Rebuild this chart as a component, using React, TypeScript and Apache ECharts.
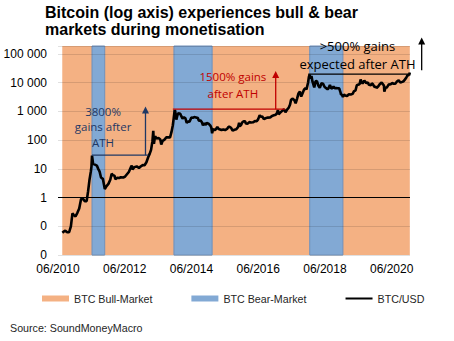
import React, { useEffect, useRef } from 'react';
import * as echarts from 'echarts';

// ---- data ----
const btcDates = [
  '2010-07-18','2010-08-01','2010-08-20','2010-09-10','2010-10-01','2010-10-20','2010-11-07','2010-11-20','2010-12-10','2010-12-31',
  '2011-01-20','2011-02-10','2011-03-01','2011-03-20','2011-04-10','2011-04-25','2011-05-10','2011-05-25','2011-06-02','2011-06-08',
  '2011-06-20','2011-07-10','2011-07-30','2011-08-15','2011-08-30','2011-09-15','2011-10-05','2011-10-26','2011-11-15','2011-12-05',
  '2011-12-25','2012-01-10','2012-01-25','2012-02-10','2012-02-20','2012-03-10','2012-04-01','2012-04-20','2012-05-15','2012-06-05',
  '2012-06-25','2012-07-15','2012-08-05','2012-08-17','2012-08-25','2012-09-15','2012-10-10','2012-11-05','2012-11-25','2012-12-15',
  '2013-01-05','2013-01-25','2013-02-15','2013-03-01','2013-03-15','2013-03-30','2013-04-09','2013-04-16','2013-04-28','2013-05-15',
  '2013-06-05','2013-06-25','2013-07-05','2013-07-20','2013-08-10','2013-08-30','2013-09-20','2013-10-10','2013-10-25','2013-11-10',
  '2013-11-20','2013-11-30','2013-12-05','2013-12-18','2013-12-30','2014-01-10','2014-01-30','2014-02-10','2014-02-25','2014-03-10',
  '2014-03-25','2014-04-10','2014-04-25','2014-05-10','2014-05-30','2014-06-15','2014-07-01','2014-07-20','2014-08-10','2014-08-20',
  '2014-09-10','2014-09-25','2014-10-05','2014-10-20','2014-11-05','2014-11-15','2014-12-05','2014-12-25','2015-01-05','2015-01-14',
  '2015-01-25','2015-02-10','2015-02-25','2015-03-10','2015-03-25','2015-04-10','2015-04-25','2015-05-15','2015-06-05','2015-06-25',
  '2015-07-10','2015-07-25','2015-08-10','2015-08-25','2015-09-15','2015-10-05','2015-10-25','2015-11-05','2015-11-12','2015-11-25',
  '2015-12-10','2015-12-25','2016-01-10','2016-01-18','2016-02-05','2016-02-25','2016-03-15','2016-04-05','2016-04-25','2016-05-15',
  '2016-05-30','2016-06-17','2016-06-28','2016-07-15','2016-08-02','2016-08-20','2016-09-15','2016-10-10','2016-10-30','2016-11-20',
  '2016-12-10','2016-12-25','2017-01-04','2017-01-12','2017-01-30','2017-02-20','2017-03-10','2017-03-25','2017-04-15','2017-04-30',
  '2017-05-15','2017-05-25','2017-06-10','2017-06-30','2017-07-15','2017-07-30','2017-08-15','2017-09-01','2017-09-15','2017-09-30',
  '2017-10-15','2017-10-31','2017-11-12','2017-11-29','2017-12-08','2017-12-17','2017-12-22','2018-01-06','2018-01-17','2018-02-06',
  '2018-02-20','2018-03-05','2018-03-18','2018-04-06','2018-04-24','2018-05-10','2018-05-28','2018-06-12','2018-06-29','2018-07-10',
  '2018-07-25','2018-08-10','2018-08-25','2018-09-04','2018-09-15','2018-10-01','2018-10-20','2018-11-05','2018-11-20','2018-11-25',
  '2018-12-05','2018-12-15','2018-12-28','2019-01-10','2019-01-30','2019-02-20','2019-03-10','2019-03-30','2019-04-15','2019-05-01',
  '2019-05-15','2019-05-30','2019-06-15','2019-06-26','2019-07-05','2019-07-17','2019-08-06','2019-08-28','2019-09-15','2019-09-25',
  '2019-10-20','2019-10-26','2019-11-10','2019-11-25','2019-12-10','2019-12-18','2020-01-05','2020-01-20','2020-02-13','2020-02-28',
  '2020-03-08','2020-03-12','2020-03-25','2020-04-10','2020-04-30','2020-05-10','2020-05-25','2020-06-05','2020-06-25','2020-07-10',
  '2020-07-28','2020-08-17','2020-09-05','2020-09-25','2020-10-10','2020-10-25','2020-11-10','2020-11-24','2020-11-26','2020-12-01',
  '2020-12-10','2020-12-17'
];
const btcPrices = [
  0.06,0.065,0.07,0.062,0.062,0.1,0.28,0.25,0.22,0.3,
  0.42,0.9,0.9,0.75,0.75,1.6,4,8,12,29,
  15,14,13,10,8,5,4.5,2.0,2.5,3.0,
  4.2,6.8,6.0,5.8,4.4,4.9,4.8,5.1,5.0,5.4,
  6.5,7.8,11,13,9.5,11.5,12.2,10.8,12.3,13.5,
  13.4,17,26,34,46,92,210,75,135,115,
  120,105,70,95,105,125,125,125,190,330,
  600,1100,1050,520,750,870,830,700,560,630,
  580,400,450,440,620,600,640,620,590,480,
  480,410,330,390,340,400,375,320,275,175,
  250,220,240,290,245,235,225,237,225,245,
  290,290,265,215,230,240,290,400,310,330,
  420,455,450,380,375,425,415,420,460,455,
  530,740,650,665,540,580,610,615,700,735,
  770,890,1130,790,920,1050,1190,940,1180,1350,
  1740,2500,2800,2500,1930,2750,4200,4900,3300,4330,
  5700,6450,5900,10000,16000,19300,13800,17100,10900,6900,
  11200,11500,8200,6600,9600,9300,7100,6550,5900,6400,
  8400,6300,6700,7400,6500,6600,6450,6400,4500,3800,
  3900,3200,3850,3600,3450,3950,3900,4100,5100,5350,
  8200,8600,8800,12900,11000,9400,11800,9700,10300,8500,
  8200,9500,8800,7100,7300,6600,7400,8700,10300,8700,
  8000,4900,6700,6900,8800,8700,9000,9800,9250,9250,
  11000,12250,10100,10700,11300,13100,15300,19100,17000,19500,
  18300,22800
];

const bullStarts = ['2010-07-17', '2011-10-25', '2015-01-14', '2018-12-15'];
const bullEnds = ['2011-06-08', '2013-11-22', '2017-12-17', '2020-12-17'];
const bearStarts = ['2011-06-08', '2013-11-22', '2017-12-17'];
const bearEnds = ['2011-10-25', '2015-01-14', '2018-12-15'];

// annotations (ATH lines, arrows, texts)
const annColors = ['#1F3864', '#C00000', '#000000'];
const annAth = [30, 1200, 20000];
const annLineFrom = ['2011-06-08', '2013-11-10', '2017-12-01'];
const annLineTo = ['2013-02-15', '2017-03-19', '2020-12-15'];
const annArrowAt = ['2013-01-15', '2016-12-10', '2021-04-25'];
const annArrowBase = [30, 1200, 27500];
const annArrowTip = [1480, 25800, 375000];
const annTexts = ['3800%\ngains after\nATH', '1500% gains\nafter ATH', '>500% gains\nexpected after ATH'];
const annTextAt = ['2011-10-07', '2015-08-28', '2019-05-22'];
const annTextPrice = [290, 8500, 92000];
const annFontSizes = [11.5, 11.5, 13];
const annLineHeights = [15.5, 16.5, 18];

const titleText = 'Bitcoin (log axis) experiences bull & bear\nmarkets during monetisation';
const sourceText = 'Source: SoundMoneyMacro';
const legendNames = ['BTC Bull-Market', 'BTC Bear-Market', 'BTC/USD'];

// ---- helpers ----
function toMonths(d: string): number {
  const [y, m, dd] = d.split('-').map(Number);
  return (y - 2010) * 12 + (m - 6) + (dd - 1) / 30;
}
const Y_MIN = -2;
const Y_MAX = 5.28;
const X_MAX = 126.6;

function fmtY(v: number): string {
  if (Math.abs(v - Math.round(v)) > 1e-6) return '';
  const n = Math.pow(10, Math.round(v));
  if (n < 1) return '0';
  return String(Math.round(n)).replace(/\B(?=(\d{3})+(?!\d))/g, ' ');
}
function fmtX(v: number): string {
  if (Math.abs(v % 24) > 1e-6) return '';
  const total = 5 + v; // months since Jan 2010 (0-based)
  const year = 2010 + Math.floor(total / 12);
  const month = (total % 12) + 1;
  return (month < 10 ? '0' : '') + month + '/' + year;
}

const FONT = 'Liberation Sans, Arial, sans-serif';
const CAL = 'Open Sans, sans-serif';

export default function App() {
  const ref = useRef<HTMLDivElement>(null);
  useEffect(() => {
    if (!ref.current) return;
    const chart = echarts.init(ref.current, undefined, { renderer: 'svg' });

    const lineData = btcDates.map((d, i) => [toMonths(d), Math.log10(btcPrices[i])]);
    const bullData = bullStarts.map((s, i) => [toMonths(s), toMonths(bullEnds[i])]);
    const bearData = bearStarts.map((s, i) => [toMonths(s), toMonths(bearEnds[i])]);

    const bandRender = (fill: string, stroke: string | null) => (params: any, api: any) => {
      const a = api.coord([api.value(0), Y_MAX]);
      const b = api.coord([api.value(1), Y_MIN]);
      return {
        type: 'rect',
        shape: { x: a[0], y: a[1], width: b[0] - a[0], height: b[1] - a[1] },
        style: stroke ? { fill, stroke, lineWidth: 1 } : { fill },
      };
    };

    chart.setOption({
      animation: false,
      title: {
        text: titleText,
        left: 45,
        top: 4,
        padding: 0,
        textStyle: { fontFamily: FONT, fontWeight: 'bold', fontSize: 16, lineHeight: 17, color: '#000' },
      },
      legend: {
        data: [
          { name: legendNames[0], icon: 'rect' },
          { name: legendNames[1], icon: 'rect' },
          { name: legendNames[2], icon: 'path://M0,0H27V2H0Z', itemStyle: { color: '#000' } },
        ],
        left: 42,
        top: 293,
        padding: 0,
        itemWidth: 27,
        itemHeight: 6,
        itemGap: 39,
        textStyle: { fontFamily: FONT, fontSize: 10.7, color: '#262626' },
        selectedMode: false,
      },
      grid: { left: 58, right: 44, top: 46, bottom: 86, containLabel: false },
      xAxis: {
        type: 'value',
        min: 0,
        max: X_MAX,
        interval: 24,
        axisLine: { show: false },
        axisTick: { show: false },
        splitLine: { show: false },
        axisLabel: {
          formatter: fmtX,
          showMaxLabel: false,
          margin: 8,
          fontFamily: FONT,
          fontSize: 12,
          color: '#000',
        },
      },
      yAxis: {
        type: 'value',
        min: Y_MIN,
        max: Y_MAX,
        interval: 1,
        z: 3,
        axisLine: { show: false },
        axisTick: { show: false },
        splitLine: { show: true, lineStyle: { color: 'rgba(0,0,0,0.12)', width: 1 } },
        axisLabel: {
          formatter: fmtY,
          showMaxLabel: false,
          margin: 11,
          fontFamily: FONT,
          fontSize: 12,
          color: '#000',
        },
      },
      series: [
        {
          name: legendNames[0],
          type: 'custom',
          z: 1,
          itemStyle: { color: '#F4B183' },
          encode: { x: [0, 1] },
          renderItem: bandRender('#F4B183', null),
          data: bullData,
          silent: true,
        },
        {
          name: legendNames[1],
          type: 'custom',
          z: 1,
          itemStyle: { color: '#82A9D4' },
          encode: { x: [0, 1] },
          renderItem: bandRender('#82A9D4', '#6E8EB8'),
          data: bearData,
          silent: true,
        },
        {
          name: legendNames[2],
          type: 'line',
          z: 5,
          symbol: 'none',
          showSymbol: false,
          color: '#000',
          lineStyle: { color: '#000', width: 2.6 },
          data: lineData,
          silent: true,
          markLine: {
            silent: true,
            symbol: 'none',
            label: { show: false },
            lineStyle: { color: '#000', width: 1.2, type: 'solid' },
            data: [{ yAxis: 0 }],
          },
        },
      ],
    });

    const P = (d: string, p: number) =>
      chart.convertToPixel({ xAxisIndex: 0, yAxisIndex: 0 }, [toMonths(d), Math.log10(p)]) as number[];

    const graphics: any[] = [];
    annColors.forEach((col, i) => {
      const l1 = P(annLineFrom[i], annAth[i]);
      const l2 = P(annLineTo[i], annAth[i]);
      graphics.push({
        type: 'line', z: 10,
        shape: { x1: l1[0], y1: l1[1], x2: l2[0], y2: l2[1] },
        style: { stroke: col, lineWidth: 1.3 },
      });
      const base = P(annArrowAt[i], annArrowBase[i]);
      const tip = P(annArrowAt[i], annArrowTip[i]);
      graphics.push({
        type: 'line', z: 10,
        shape: { x1: base[0], y1: base[1], x2: tip[0], y2: tip[1] + 5 },
        style: { stroke: col, lineWidth: 1.3 },
      });
      graphics.push({
        type: 'polygon', z: 10,
        shape: { points: [[tip[0] - 3.5, tip[1] + 7], [tip[0] + 3.5, tip[1] + 7], [tip[0], tip[1]]] },
        style: { fill: col },
      });
      const t = P(annTextAt[i], annTextPrice[i]);
      graphics.push({
        type: 'text', z: 10,
        x: t[0], y: t[1],
        style: {
          text: annTexts[i],
          fill: col,
          fontSize: annFontSizes[i],
          fontFamily: CAL,
          lineHeight: annLineHeights[i],
          align: 'center',
          verticalAlign: 'middle',
        },
      });
    });
    graphics.push({
      type: 'text',
      left: 10,
      top: 322,
      style: { text: sourceText, fill: '#262626', fontFamily: FONT, fontSize: 10.7 },
    });
    chart.setOption({ graphic: graphics });

    return () => chart.dispose();
  }, []);

  return (
    <div
      ref={ref}
      style={{ position: 'fixed', left: 0, top: 0, width: 454, height: 341, background: '#fff' }}
    />
  );
}
